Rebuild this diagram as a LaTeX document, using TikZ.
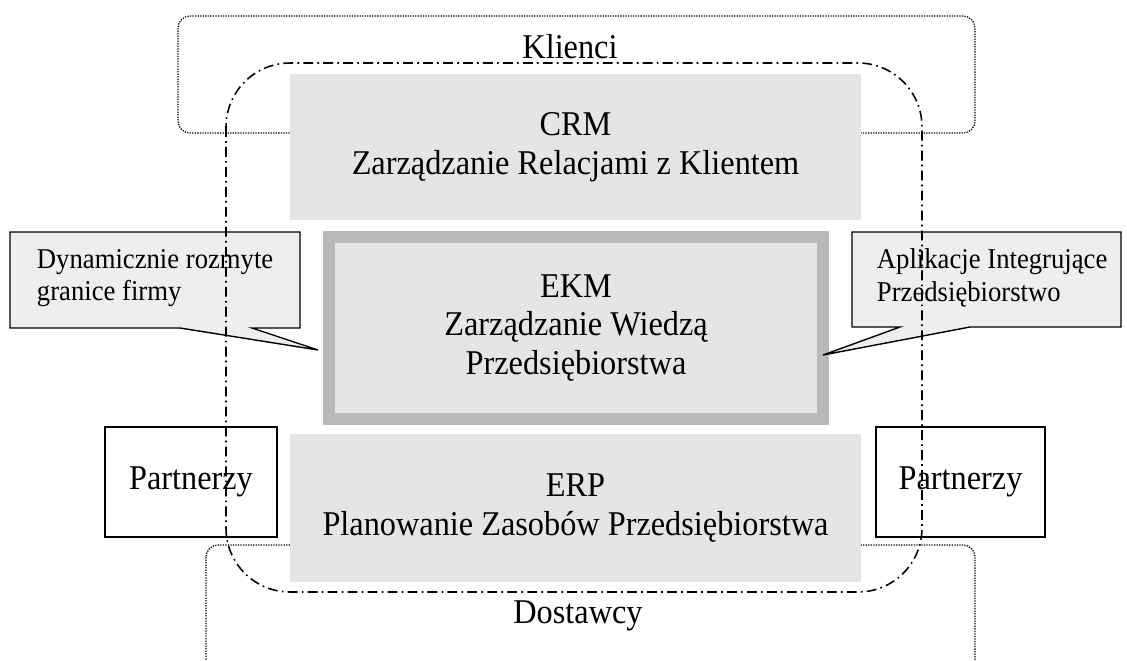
\documentclass[tikz,border=0pt]{standalone}
\usepackage{fontspec}
\setmainfont{Liberation Serif}
\newfontfamily\tallserif[FakeStretch=0.93]{Liberation Serif}
\begin{document}
\begin{tikzpicture}[x=0.025cm,y=-0.025cm,
  bigtxt/.style={font=\tallserif\fontsize{24.7}{27.5}\selectfont, align=center},
  smalltxt/.style={font=\tallserif\fontsize{20.4}{23}\selectfont, align=left, anchor=west},
  graybox/.style={bigtxt, fill=gray!20, inner sep=0pt},
  partbox/.style={bigtxt, draw, fill=white, line width=1pt, minimum height=2.75cm},
  dotline/.style={line width=0.9pt, dash pattern=on 0.9pt off 0.9pt, rounded corners=0.3cm},
  dashdot/.style={line width=1.1pt, dash pattern=on 7pt off 3pt on 1.2pt off 3pt, rounded corners=1.6cm},
  callfill/.style={fill=gray!13, draw, line width=1pt}]
\useasboundingbox (0,0) rectangle (1127,660);
% Clients and suppliers
\draw[dotline] (178,16) rectangle (975,133);
\draw[dotline] (206,545) rectangle (975,700);
\node[bigtxt] (klienci) at (570,47) {Klienci};
\node[bigtxt] (dostawcy) at (578,616) {Dostawcy};
% Systems
\node[graybox, minimum width=14.275cm, minimum height=3.65cm] (crm) at (575.5,147) {CRM\\Zarządzanie Relacjami z Klientem};
\node[graybox, draw=gray!55, line width=0.3cm, minimum width=12.35cm, minimum height=4.55cm] (ekm) at (576,328) {EKM\\Zarządzanie Wiedzą\\Przedsiębiorstwa};
\node[graybox, minimum width=14.275cm, minimum height=3.7cm] (erp) at (575.5,508) {ERP\\Planowanie Zasobów Przedsiębiorstwa};
% Left callout
\coordinate (tipL) at (318,350);
\filldraw[callfill] (10,232) -- (300,232) -- (300,328) -- (252,328) -- (tipL) -- (180,328) -- (10,328) -- cycle;
\node[smalltxt] (granice) at (32,278) {Dynamicznie rozmyte\\granice firmy};
% Right callout
\coordinate (tipR) at (823,355);
\filldraw[callfill] (852,232) -- (1121,232) -- (1121,327) -- (970,327) -- (tipR) -- (900,327) -- (852,327) -- cycle;
\node[smalltxt] (aplikacje) at (872,278) {Aplikacje Integrujące\\Przedsiębiorstwo};
% Partners
\node[partbox, minimum width=4.3cm] (partL) at (191,482) {Partnerzy};
\node[partbox, minimum width=4.225cm] (partR) at (960.5,482) {Partnerzy};
% Company boundary
\draw[dashdot] (226,63) rectangle (922,592);
\end{tikzpicture}
\end{document}
